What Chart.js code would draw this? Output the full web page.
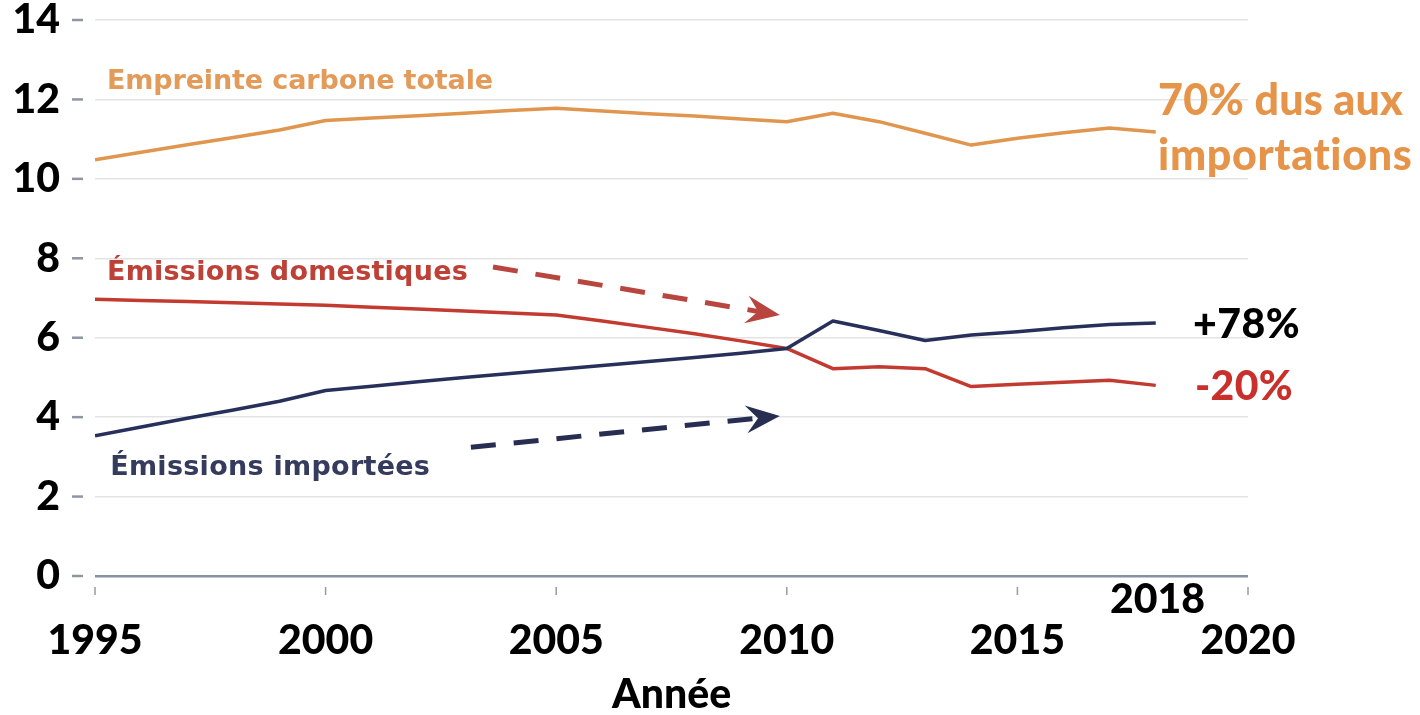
<!DOCTYPE html>
<html><head><meta charset="utf-8">
<script src="https://cdn.jsdelivr.net/npm/chart.js@4/dist/chart.umd.min.js"></script>
<style>html,body{margin:0;padding:0;background:#fff;}#wrap{width:1420px;height:715px;}</style>
</head><body><div id="wrap"><canvas id="c" width="1420" height="715"></canvas></div>
<script>
// ---- data ----
const years = [1995,1996,1997,1998,1999,2000,2001,2002,2003,2004,2005,2006,2007,2008,2009,2010,2011,2012,2013,2014,2015,2016,2017,2018];
const totalFootprint = [10.48,10.67,10.86,11.04,11.23,11.47,11.53,11.59,11.65,11.72,11.78,11.71,11.64,11.58,11.51,11.44,11.65,11.44,11.15,10.85,11.02,11.16,11.28,11.18];
const domesticEmissions = [6.97,6.94,6.91,6.88,6.85,6.82,6.77,6.72,6.67,6.62,6.57,6.42,6.26,6.10,5.92,5.73,5.22,5.27,5.22,4.77,4.83,4.88,4.93,4.80];
const importedEmissions = [3.53,3.75,3.97,4.18,4.40,4.67,4.78,4.89,5.00,5.10,5.20,5.30,5.40,5.50,5.61,5.73,6.42,6.18,5.93,6.07,6.15,6.25,6.33,6.37];
const xTickValues = [1995,2000,2005,2010,2015,2020];
const yTickValues = [0,2,4,6,8,10,12,14];
const seriesNames = ['Empreinte carbone totale','Émissions domestiques','Émissions importées'];
const xAxisTitle = 'Année';
const endYearLabel = '2018';
const importShareText = ['70% dus aux','importations'];
const importChangeText = '+78%';
const domesticChangeText = '-20%';

// ---- styles ----
const C_ORANGE = '#E0964E', C_RED = '#C23A30', C_NAVY = '#27305A';
const BIG = '900 41px Lato';
const SMALL = 'bold 27px "DejaVu Sans"';

function fitText(ctx, txt, x, y, font, color, w, align) {
  ctx.save();
  ctx.font = font; ctx.fillStyle = color; ctx.textBaseline = 'alphabetic'; ctx.textAlign = 'left';
  const m = ctx.measureText(txt).width;
  let left = x;
  if (align === 'center') left = x - w / 2;
  if ('letterSpacing' in ctx && txt.length > 1) {
    ctx.letterSpacing = ((w - m) / txt.length) + 'px';
    ctx.fillText(txt, left, y);
  } else {
    ctx.translate(left, y); ctx.scale(w / m, 1); ctx.fillText(txt, 0, 0);
  }
  ctx.restore();
}
function arrow(ctx, x0, y0, x1, y1, color) {
  const a = Math.atan2(y1 - y0, x1 - x0), c = Math.cos(a), s = Math.sin(a);
  const L = 34, W = 14, N = 12;
  ctx.save();
  ctx.strokeStyle = color; ctx.fillStyle = color; ctx.lineWidth = 5; ctx.lineCap = 'butt';
  ctx.setLineDash([25, 18]);
  ctx.beginPath(); ctx.moveTo(x0, y0); ctx.lineTo(x1 - (L - N) * c, y1 - (L - N) * s); ctx.stroke();
  ctx.setLineDash([]);
  const bx = x1 - L * c, by = y1 - L * s;
  ctx.beginPath();
  ctx.moveTo(x1, y1);
  ctx.lineTo(bx - W * s, by + W * c);
  ctx.lineTo(x1 - (L - N) * c, y1 - (L - N) * s);
  ctx.lineTo(bx + W * s, by - W * c);
  ctx.closePath(); ctx.fill();
  ctx.restore();
}

const annotations = {
  id: 'annotations',
  afterDraw(chart) {
    const ctx = chart.ctx, xs = chart.scales.x, ys = chart.scales.y, ca = chart.chartArea;
    const X = v => xs.getPixelForValue(v), Y = v => ys.getPixelForValue(v);
    ctx.save();
    ctx.strokeStyle = '#8f95a5'; ctx.lineWidth = 2.5;
    yTickValues.forEach(v => { ctx.beginPath(); ctx.moveTo(ca.left - 23, Y(v)); ctx.lineTo(ca.left - 12, Y(v)); ctx.stroke(); });
    ctx.strokeStyle = '#9a9a9a'; ctx.lineWidth = 1.5;
    xTickValues.forEach(v => { ctx.beginPath(); ctx.moveTo(X(v), ca.bottom + 11); ctx.lineTo(X(v), ca.bottom + 19); ctx.stroke(); });
    ctx.restore();
    fitText(ctx, seriesNames[0], X(1995.26), Y(12.26), SMALL, '#E39B5A', 386);
    fitText(ctx, seriesNames[1], X(1995.26), Y(7.45), SMALL, '#BD4137', 361);
    fitText(ctx, seriesNames[2], X(1995.33), Y(2.54), SMALL, '#353B5C', 320);
    fitText(ctx, importShareText[0], X(2018.05), Y(11.61), '900 43px Lato', '#E5944A', 245);
    fitText(ctx, importShareText[1], X(2018.05), Y(10.22), '900 43px Lato', '#E5944A', 255);
    fitText(ctx, importChangeText, X(2018.81), Y(5.99), BIG, '#000', 107);
    fitText(ctx, domesticChangeText, X(2018.85), Y(4.43), BIG, '#C9302C', 98);
    fitText(ctx, endYearLabel, X(2018.04), Y(-0.93), BIG, '#000', 95, 'center');
    arrow(ctx, X(2003.63), Y(7.78), X(2009.85), Y(6.57), '#B8463F');
    arrow(ctx, X(2003.15), Y(3.24), X(2009.85), Y(4.03), '#272E52');
  }
};

const toXY = arr => years.map((yr, i) => ({ x: yr, y: arr[i] }));

new Chart(document.getElementById('c'), {
  type: 'line',
  data: {
    datasets: [
      { label: seriesNames[0], data: toXY(totalFootprint), borderColor: C_ORANGE, borderWidth: 3.5 },
      { label: seriesNames[2], data: toXY(importedEmissions), borderColor: C_NAVY, borderWidth: 3.5 },
      { label: seriesNames[1], data: toXY(domesticEmissions), borderColor: C_RED, borderWidth: 3.5 }
    ]
  },
  options: {
    responsive: false, animation: false, devicePixelRatio: 1,
    elements: { point: { radius: 0 }, line: { tension: 0, borderJoinStyle: 'round' } },
    layout: { padding: { top: 20, right: 172, bottom: 0, left: 0 } },
    plugins: { legend: { display: false }, tooltip: { enabled: false } },
    scales: {
      x: {
        type: 'linear', min: 1995, max: 2020,
        afterBuildTicks: s => { s.ticks = xTickValues.map(v => ({ value: v })); },
        afterFit: s => { s.height = 139; s.paddingLeft = 0; s.paddingRight = 0; },
        grid: { display: false, drawTicks: false }, border: { display: false },
        ticks: { font: { family: 'Lato', weight: 900, size: 41 }, color: '#000', padding: 40, maxRotation: 0, autoSkip: false, callback: v => String(v) },
        title: { display: true, text: xAxisTitle, color: '#000', font: { family: 'Lato', weight: 900, size: 41, lineHeight: 1 }, padding: 0 }
      },
      y: {
        min: 0, max: 14,
        afterBuildTicks: s => { s.ticks = yTickValues.map(v => ({ value: v })); },
        afterFit: s => { s.width = 95; s.paddingTop = 0; s.paddingBottom = 0; },
        grid: { drawTicks: false, color: c => c.tick && c.tick.value === 0 ? '#8890a4' : '#e3e3e3', lineWidth: c => c.tick && c.tick.value === 0 ? 2.5 : 1.5 },
        border: { display: false },
        ticks: { font: { family: 'Lato', weight: 900, size: 41, lineHeight: 0.9 }, color: '#000', padding: 35 }
      }
    }
  },
  plugins: [annotations]
});
</script></body></html>
